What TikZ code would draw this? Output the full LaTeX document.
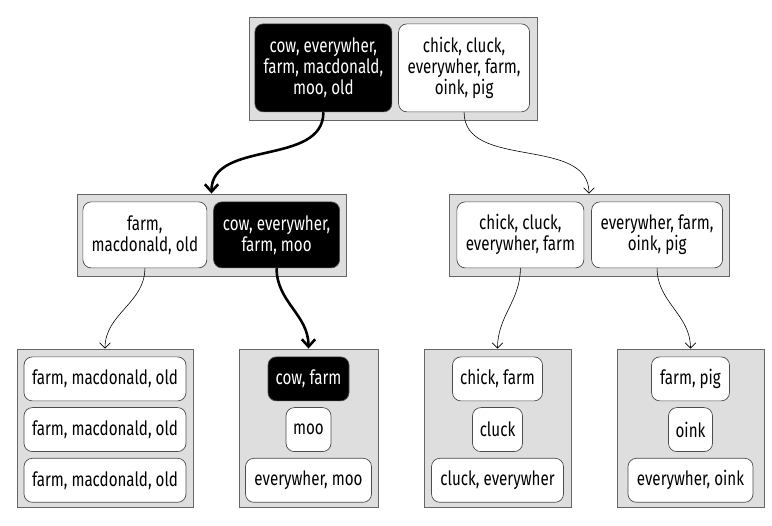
\documentclass[tikz,border=0pt]{standalone}
\usepackage{fontspec}
\setmainfont{Fira Sans}[FakeStretch=0.77]
\usepackage{tikz}
\usetikzlibrary{arrows.meta,positioning}

\begin{document}
\begin{tikzpicture}[font=\fontsize{16.8}{17.9}\selectfont,
  block/.style={rectangle,draw=black!60,fill=black!13,line width=0.8pt,inner sep=0pt},
  entry/.style={rectangle,rounded corners=0.25cm,draw=black!70,fill=white,line width=0.6pt,align=center,inner sep=0.12cm,minimum height=1.32cm},
  hit/.style={entry,fill=black,text=white},
  arr/.style={-{Straight Barb[length=1.6mm,width=3.2mm]},line width=0.5pt},
  hot/.style={-{Straight Barb[length=2.2mm,width=4mm]},line width=2.2pt}]
\useasboundingbox (0,0) rectangle (23.16,-15.75);
% blocks
\node[block,minimum width=8.64cm,minimum height=3.09cm] (root) at (11.79,-2.055) {};
\node[block,minimum width=8.07cm,minimum height=2.46cm] (m1) at (6.345,-7.05) {};
\node[block,minimum width=8.4cm,minimum height=2.46cm] (m2) at (17.67,-7.05) {};
\node[block,minimum width=5.28cm,minimum height=4.74cm] (b1) at (3.15,-12.84) {};
\node[block,minimum width=4.17cm,minimum height=4.74cm] (b2) at (9.255,-12.84) {};
\node[block,minimum width=4.41cm,minimum height=4.74cm] (b3) at (14.925,-12.84) {};
\node[block,minimum width=4.41cm,minimum height=4.74cm] (b4) at (20.715,-12.84) {};
% root entries
\node[hit,minimum width=4.11cm,minimum height=2.64cm,below right=0.21cm and 0.18cm of root.north west] (r1) {cow, everywher,\\farm, macdonald,\\moo, old};
\node[entry,minimum width=3.93cm,minimum height=2.64cm,right=0.18cm of r1] (r2) {chick, cluck,\\everywher, farm,\\oink, pig};
% middle entries
\node[entry,minimum width=3.72cm,minimum height=1.98cm,below right=0.24cm and 0.18cm of m1.north west] (m1a) {farm,\\macdonald, old};
\node[hit,minimum width=3.78cm,minimum height=1.98cm,right=0.18cm of m1a] (m1b) {cow, everywher,\\farm, moo};
\node[entry,minimum width=3.81cm,minimum height=1.98cm,below right=0.24cm and 0.24cm of m2.north west] (m2a) {chick, cluck,\\everywher, farm};
\node[entry,minimum width=3.93cm,minimum height=1.98cm,right=0.21cm of m2a] (m2b) {everywher, farm,\\oink, pig};
% leaves
\node[entry,minimum width=4.86cm,below=0.24cm of b1.north] (b1a) {farm, macdonald, old};
\node[entry,minimum width=4.86cm,below=0.18cm of b1a] (b1b) {farm, macdonald, old};
\node[entry,minimum width=4.86cm,below=0.18cm of b1b] (b1c) {farm, macdonald, old};
\node[hit,minimum width=2.43cm,below=0.24cm of b2.north] (b2a) {cow, farm};
\node[entry,minimum width=1.35cm,below=0.18cm of b2a] (b2b) {moo};
\node[entry,minimum width=3.78cm,below=0.18cm of b2b] (b2c) {everywher, moo};
\node[entry,minimum width=2.7cm,below=0.24cm of b3.north] (b3a) {chick, farm};
\node[entry,minimum width=1.5cm,below=0.18cm of b3a] (b3b) {cluck};
\node[entry,minimum width=3.96cm,below=0.18cm of b3b] (b3c) {cluck, everywher};
\node[entry,minimum width=2.34cm,below=0.24cm of b4.north] (b4a) {farm, pig};
\node[entry,minimum width=1.32cm,below=0.18cm of b4a] (b4b) {oink};
\node[entry,minimum width=3.75cm,below=0.18cm of b4b] (b4c) {everywher, oink};
% links
\draw[hot] (r1.south) to[out=-90,in=90] (m1.north);
\draw[arr] (r2.south) to[out=-90,in=90] (m2.north);
\draw[arr] (m1a.south) to[out=-90,in=90] (b1.north);
\draw[hot] (m1b.south) to[out=-90,in=90] (b2.north);
\draw[arr] (m2a.south) to[out=-90,in=90] (b3.north);
\draw[arr] (m2b.south) to[out=-90,in=90] (b4.north);
\end{tikzpicture}
\end{document}
